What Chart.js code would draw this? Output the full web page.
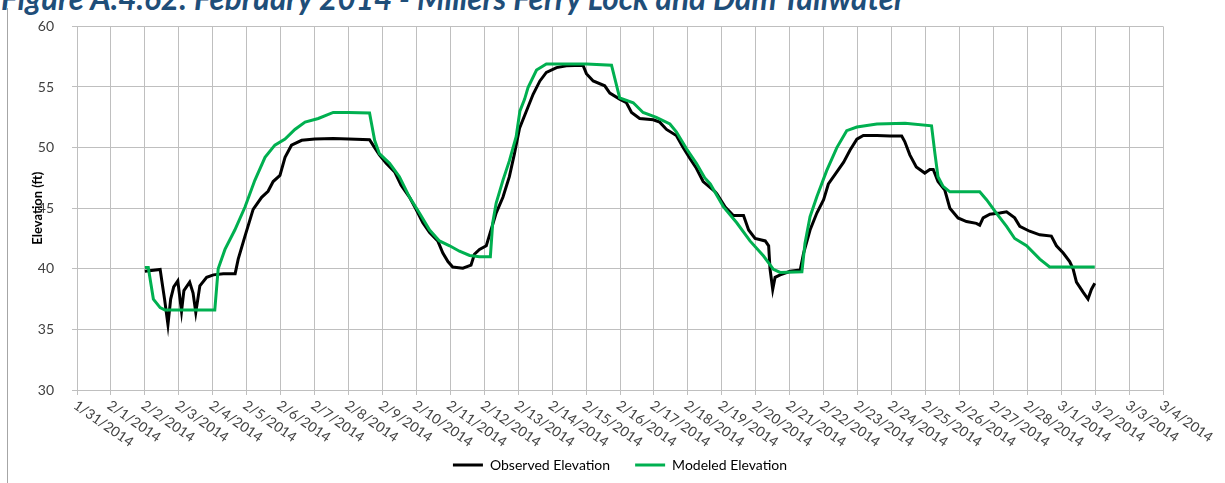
<!DOCTYPE html>
<html><head><meta charset="utf-8">
<script src="https://cdn.jsdelivr.net/npm/chart.js@4"></script>
<style>
html,body{margin:0;padding:0;background:#fff;overflow:hidden;width:1225px;height:483px;}
#wrap{position:relative;width:1225px;height:483px;overflow:hidden;}
#title{position:absolute;left:1px;top:-20px;font:italic bold 31.5px Lato, sans-serif;color:#1F4E79;white-space:nowrap;line-height:37px;}
#vline{position:absolute;left:7px;top:8px;width:1px;height:475px;background:#a6a6a6;}
canvas{position:absolute;left:0;top:0;}
</style></head>
<body>
<div id="wrap">
<div id="title">Figure A.4.62: February 2014 - Millers Ferry Lock and Dam Tailwater</div>
<div id="vline"></div>
<canvas id="c" width="1225" height="483"></canvas>
</div>
<script>
const dateLabels = ['1/31/2014','2/1/2014','2/2/2014','2/3/2014','2/4/2014','2/5/2014','2/6/2014','2/7/2014','2/8/2014','2/9/2014','2/10/2014','2/11/2014','2/12/2014','2/13/2014','2/14/2014','2/15/2014','2/16/2014','2/17/2014','2/18/2014','2/19/2014','2/20/2014','2/21/2014','2/22/2014','2/23/2014','2/24/2014','2/25/2014','2/26/2014','2/27/2014','2/28/2014','3/1/2014','3/2/2014','3/3/2014','3/4/2014'];

// days after 1/31/2014
const obsDays = [2.0,2.45,2.5,2.58,2.68,2.76,2.85,2.97,3.08,3.15,3.32,3.42,3.50,3.62,3.82,4.02,4.31,4.66,4.75,4.95,5.19,5.44,5.63,5.78,5.98,6.13,6.32,6.62,7.01,7.55,8.0,8.62,8.77,8.91,9.11,9.36,9.55,9.80,9.99,10.19,10.39,10.63,10.78,10.93,11.07,11.37,11.61,11.71,11.86,12.06,12.2,12.35,12.55,12.74,12.89,13.04,13.24,13.44,13.64,13.83,14.13,14.42,14.91,15.01,15.21,15.55,15.7,15.99,16.19,16.34,16.58,16.98,17.17,17.37,17.66,17.86,18.06,18.25,18.45,18.79,18.85,19.1,19.34,19.64,19.79,19.98,20.28,20.38,20.42,20.5,20.57,20.72,21.01,21.31,21.41,21.6,21.8,22.0,22.14,22.39,22.59,22.78,22.98,23.17,23.57,23.96,24.3,24.39,24.54,24.73,24.98,25.13,25.23,25.37,25.57,25.72,25.96,26.21,26.5,26.6,26.7,26.9,27.19,27.39,27.63,27.78,28.07,28.37,28.71,28.86,29.06,29.25,29.35,29.45,29.65,29.79,29.89,29.99];
const obsElev = [39.8,39.95,39.0,37.5,35.4,37.5,38.5,39.0,36.5,38.2,38.9,38.0,36.4,38.6,39.3,39.5,39.6,39.6,40.8,42.7,44.9,45.9,46.4,47.2,47.7,49.2,50.2,50.6,50.7,50.75,50.7,50.65,50.0,49.4,48.7,48.0,46.9,45.9,44.9,43.8,43.0,42.3,41.3,40.6,40.15,40.05,40.3,41.2,41.6,41.9,43.2,44.6,45.9,47.6,49.5,51.6,53.0,54.4,55.5,56.2,56.6,56.75,56.8,56.1,55.5,55.1,54.5,54.0,53.7,52.9,52.4,52.3,52.1,51.5,51.0,50.0,49.1,48.3,47.2,46.4,46.2,45.1,44.4,44.4,43.2,42.5,42.3,41.9,40.0,38.3,39.3,39.5,39.8,39.9,41.3,43.2,44.6,45.7,47.0,48.0,48.8,49.8,50.7,51.0,51.0,50.95,50.95,50.5,49.4,48.4,47.9,48.2,48.2,47.2,46.5,45.0,44.2,43.9,43.75,43.6,44.2,44.5,44.6,44.7,44.2,43.5,43.1,42.8,42.7,41.9,41.3,40.6,40.0,38.9,38.05,37.5,38.3,38.8];

const modDays = [2.0,2.1,2.25,2.45,2.59,4.06,4.16,4.36,4.65,4.95,5.24,5.54,5.83,6.13,6.42,6.72,7.11,7.55,8.0,8.62,8.77,8.91,9.21,9.5,9.8,10.09,10.39,10.68,10.98,11.27,11.57,11.86,12.18,12.25,12.35,12.55,12.74,12.94,13.05,13.19,13.29,13.54,13.83,15.01,15.75,15.99,16.39,16.68,17.07,17.47,17.66,17.96,18.25,18.5,18.66,19.05,19.44,19.83,20.23,20.52,20.72,21.36,21.45,21.6,21.8,22.09,22.39,22.68,22.98,23.57,24.4,25.18,25.28,25.37,25.52,25.72,26.6,26.8,27.09,27.39,27.63,27.98,28.37,28.66,29.99];
const modElev = [40.1,40.1,37.5,36.8,36.6,36.6,40.0,41.6,43.2,45.1,47.3,49.2,50.2,50.7,51.5,52.1,52.4,52.9,52.9,52.85,50.6,49.5,48.7,47.6,45.9,44.6,43.2,42.3,41.9,41.45,41.1,41.0,41.0,43.8,45.4,47.3,48.9,50.9,53.0,54.0,54.95,56.4,56.9,56.9,56.8,54.1,53.7,52.9,52.5,51.95,51.3,49.9,48.7,47.5,47.0,45.1,43.8,42.3,41.05,39.96,39.7,39.75,42.1,44.3,45.95,48.1,50.0,51.4,51.7,51.95,52.0,51.8,49.5,47.6,46.8,46.35,46.35,45.7,44.6,43.5,42.5,41.9,40.8,40.15,40.15];

const toPts = (xs, ys) => xs.map((x, i) => ({x: x, y: ys[i]}));

const xLabelPlugin = {
  id: 'xLabels',
  afterDraw(chart) {
    const s = chart.scales.x, c = chart.ctx;
    c.save();
    c.font = '14px Lato';
    c.fillStyle = '#404040';
    c.textAlign = 'left';
    c.textBaseline = 'top';
    s.ticks.forEach(t => {
      const px = s.getPixelForValue(t.value);
      c.save();
      c.translate(px + 2, s.top + 8);
      c.rotate(35 * Math.PI / 180);
      c.fillText(dateLabels[t.value], 0, 0);
      c.restore();
    });
    c.restore();
  }
};

new Chart(document.getElementById('c'), {
  type: 'line',
  data: {
    datasets: [
      {label: 'Observed Elevation', data: toPts(obsDays, obsElev), borderColor: '#000000', backgroundColor: '#000000', borderWidth: 3, pointRadius: 0, tension: 0, order: 1},
      {label: 'Modeled Elevation', data: toPts(modDays, modElev), borderColor: '#00B050', backgroundColor: '#00B050', borderWidth: 3, pointRadius: 0, tension: 0, order: 0}
    ]
  },
  options: {
    responsive: false,
    animation: false,
    devicePixelRatio: 1,
    layout: {padding: {left: 30, right: 62, top: 23, bottom: 1}},
    plugins: {
      legend: {
        position: 'bottom',
        fullSize: false,
        labels: {usePointStyle: true, pointStyle: 'line', pointStyleWidth: 30, padding: 25, color: '#000', font: {family: 'Lato', size: 14}, sort: (a, b) => a.datasetIndex - b.datasetIndex}
      },
      tooltip: {enabled: false}
    },
    scales: {
      x: {
        type: 'linear', min: 0, max: 32,
        ticks: {stepSize: 1, display: false},
        grid: {color: '#bfbfbf', tickLength: 5},
        border: {color: '#bfbfbf'},
        afterFit: s => { s.height = 43; }
      },
      y: {
        min: 30, max: 60,
        ticks: {stepSize: 5, padding: 18, color: '#404040', font: {family: 'Lato', size: 14}},
        grid: {color: '#bfbfbf', tickLength: 5},
        border: {color: '#bfbfbf'},
        title: {display: true, text: 'Elevation (ft)', color: '#000', padding: 0, font: {family: 'Lato', size: 13, weight: 'bold'}},
        afterFit: s => { s.width = 47; }
      }
    }
  },
  plugins: [xLabelPlugin]
});
</script>
</body></html>
